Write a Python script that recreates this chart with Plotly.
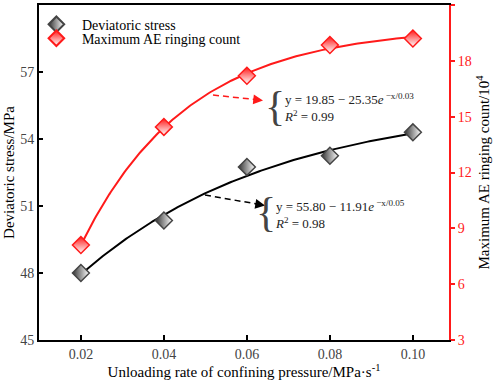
import numpy as np
import plotly.graph_objects as go

# ---- data ----
rates = [0.02, 0.04, 0.06, 0.08, 0.10]
deviatoric_stress = [48.0, 50.35, 52.75, 53.25, 54.3]
ae_count = [8.1, 14.45, 17.2, 18.85, 19.2]
x_ticks = [0.02, 0.04, 0.06, 0.08, 0.10]
x_tick_labels = ["0.02", "0.04", "0.06", "0.08", "0.10"]
left_ticks = [45, 48, 51, 54, 57, 60]
right_ticks = [3, 6, 9, 12, 15, 18, 21]

FONT = "Liberation Serif, Times New Roman, serif"
RED = "#ff1a1a"


def exp_fit(x, y):
    """least-squares fit of y = a - b*exp(-x/c)"""
    x = np.asarray(x, float)
    y = np.asarray(y, float)
    best = None
    for c in np.linspace(0.005, 0.12, 1151):
        A = np.column_stack([np.ones_like(x), -np.exp(-x / c)])
        coef, *_ = np.linalg.lstsq(A, y, rcond=None)
        r = np.sum((A @ coef - y) ** 2)
        if best is None or r < best[0]:
            best = (r, coef[0], coef[1], c)
    return best[1:]


xs = np.linspace(min(rates), max(rates), 200)
a1, b1, c1 = exp_fit(rates, deviatoric_stress)
a2, b2, c2 = exp_fit(rates, ae_count)

fig = go.Figure()

# fit curves
fig.add_trace(go.Scatter(x=xs, y=a1 - b1 * np.exp(-xs / c1), mode="lines",
                         line=dict(color="black", width=2), showlegend=False,
                         hoverinfo="skip"))
fig.add_trace(go.Scatter(x=xs, y=a2 - b2 * np.exp(-xs / c2), mode="lines",
                         line=dict(color=RED, width=2), showlegend=False,
                         hoverinfo="skip", yaxis="y2"))

# markers
fig.add_trace(go.Scatter(x=rates, y=deviatoric_stress, mode="markers",
                         name="Deviatoric stress", legend="legend",
                         marker=dict(symbol="diamond", size=13, color="#333333",
                                     gradient=dict(type="horizontal", color="white"),
                                     line=dict(color="#444444", width=1.5))))
fig.add_trace(go.Scatter(x=rates, y=ae_count, mode="markers",
                         name="Maximum AE ringing count", yaxis="y2", legend="legend2",
                         marker=dict(symbol="diamond", size=13, color=RED,
                                     gradient=dict(type="vertical", color="white"),
                                     line=dict(color=RED, width=1.5))))


def px(xp):
    return (xp - 39) / 410


def py(yp):
    return (340 - yp) / 335


shapes = [
    dict(type="line", xref="paper", yref="paper", x0=px(213), y0=py(95),
         x1=px(255), y1=py(99.5), line=dict(color=RED, width=1.5, dash="6px,4px")),
    dict(type="line", xref="paper", yref="paper", x0=px(205), y0=py(195),
         x1=px(257), y1=py(204), line=dict(color="black", width=1.5, dash="6px,4px")),
]

annotations = [
    # arrow heads
    dict(xref="paper", yref="paper", x=px(263), y=py(100.5), ax=-11, ay=-1.2,
         axref="pixel", ayref="pixel", text="", showarrow=True, arrowhead=2,
         arrowsize=1.3, arrowwidth=1.5, arrowcolor=RED),
    dict(xref="paper", yref="paper", x=px(265), y=py(205.5), ax=-11, ay=-1.9,
         axref="pixel", ayref="pixel", text="", showarrow=True, arrowhead=2,
         arrowsize=1.3, arrowwidth=1.5, arrowcolor="black"),
    # braces
    dict(xref="paper", yref="paper", x=px(275), y=py(106), text="{", showarrow=False,
         font=dict(family=FONT, size=42, color="#444"), xanchor="center", yanchor="middle"),
    dict(xref="paper", yref="paper", x=px(266), y=py(212), text="{", showarrow=False,
         font=dict(family=FONT, size=42, color="#444"), xanchor="center", yanchor="middle"),
    # equations
    dict(xref="paper", yref="paper", x=px(282), y=py(108), xanchor="left", yanchor="middle",
         align="left", showarrow=False,
         text="y = 19.85 − 25.35<i>e</i><sup> −x/0.03</sup><br><i>R</i><sup>2</sup> = 0.99",
         font=dict(family=FONT, size=13, color="#222")),
    dict(xref="paper", yref="paper", x=px(273), y=py(214), xanchor="left", yanchor="middle",
         align="left", showarrow=False,
         text="y = 55.80 − 11.91<i>e</i><sup> −x/0.05</sup><br><i>R</i><sup>2</sup> = 0.98",
         font=dict(family=FONT, size=13, color="#222")),
]

legend_style = dict(xanchor="left", yanchor="top", itemwidth=41,
                    bgcolor="rgba(0,0,0,0)",
                    font=dict(family=FONT, size=14, color="black"),
                    itemsizing="constant", tracegroupgap=0)

fig.update_layout(
    width=498, height=389,
    margin=dict(l=39, r=49, t=5, b=49),
    paper_bgcolor="white", plot_bgcolor="white",
    font=dict(family=FONT, size=14, color="black"),
    showlegend=True,
    legend=dict(x=-0.0198, y=0.989, **legend_style),
    legend2=dict(x=-0.0198, y=0.9475, **legend_style),
    xaxis=dict(range=[0.0099, 0.1087], tickvals=x_ticks, ticktext=x_tick_labels,
               ticks="inside", ticklen=5, tickwidth=1.5, tickcolor="black",
               showline=True, linecolor="black", linewidth=2, mirror=True,
               showgrid=False, zeroline=False, automargin=False,
               tickfont=dict(family=FONT, size=14, color="#444"),
               title=dict(text="Unloading rate of confining pressure/MPa·s<sup>-1</sup>",
                          font=dict(family=FONT, size=15, color="black"), standoff=6)),
    yaxis=dict(range=[45, 60], tickvals=left_ticks,
               ticks="inside", ticklen=4, tickwidth=1.5, tickcolor="black",
               showline=True, linecolor="black", linewidth=2,
               showgrid=False, zeroline=False, automargin=False,
               tickfont=dict(family=FONT, size=14, color="#444"),
               title=dict(text="Deviatoric stress/MPa",
                          font=dict(family=FONT, size=15, color="black"), standoff=2)),
    yaxis2=dict(range=[3, 21], tickvals=right_ticks, overlaying="y", side="right",
                ticks="outside", ticklen=4, tickwidth=1.5, tickcolor=RED,
                showline=True, linecolor=RED, linewidth=2,
                showgrid=False, zeroline=False, automargin=False,
                tickfont=dict(family=FONT, size=14, color=RED),
                title=dict(text="Maximum AE ringing count/10<sup>4</sup>",
                           font=dict(family=FONT, size=15, color="black"), standoff=8)),
    shapes=shapes,
    annotations=annotations,
)

fig.write_html("out.html", config=dict(displayModeBar=False),
               post_script="document.body.style.margin='0';document.body.style.padding='0';")
